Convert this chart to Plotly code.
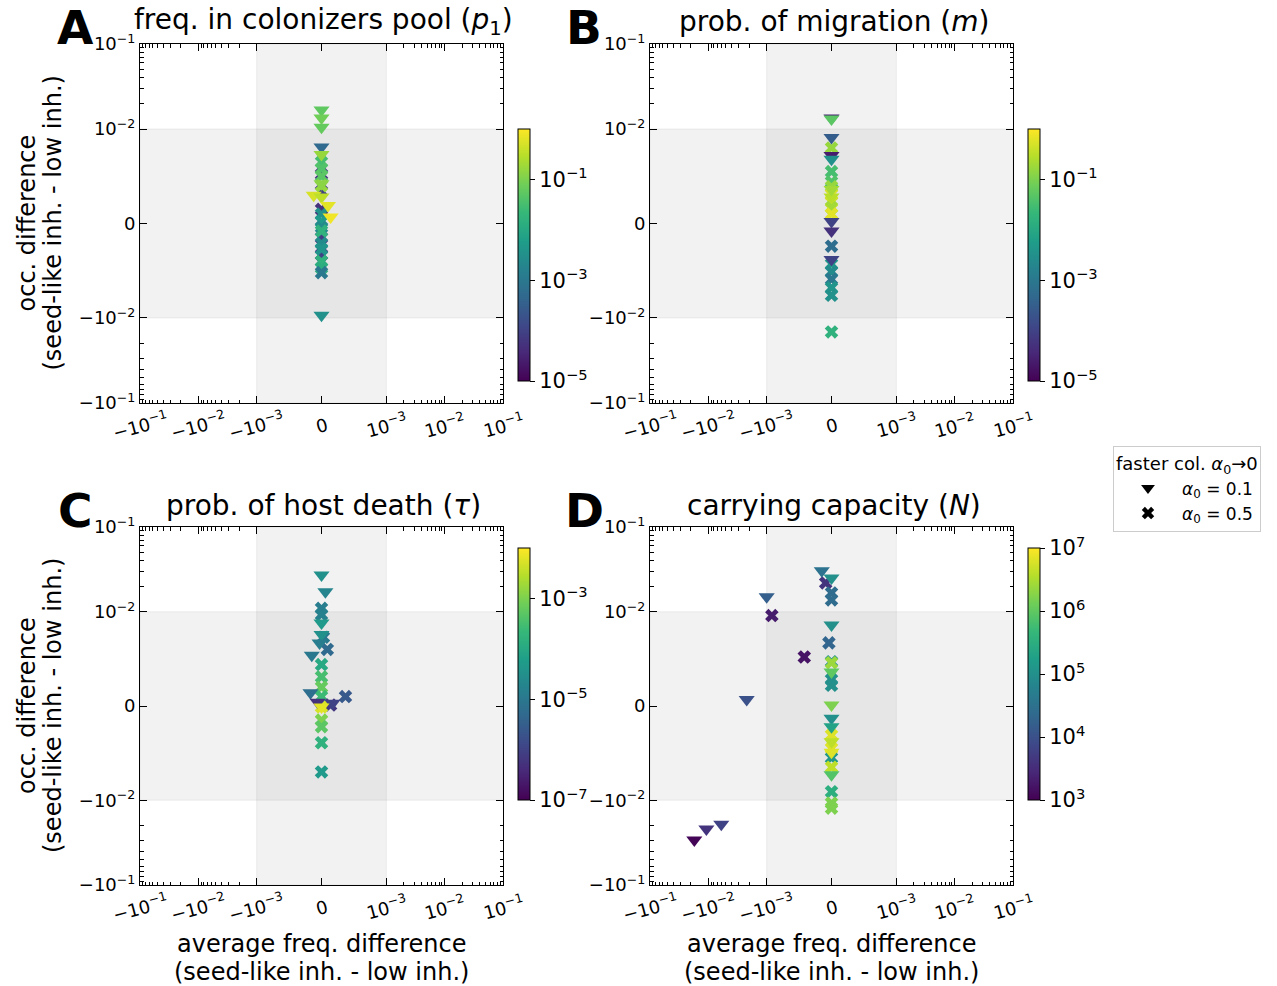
import numpy as np
import plotly.graph_objects as go

# ---------------- data ----------------
# Panel A: freq. in colonizers pool (p1)
A_tri_x = [0, 0, 0, 0, 0, 0, -1.2e-4, 0, 1.0e-4, 1.4e-4, 0]
A_tri_y = [0.0167, 0.0135, 0.0105, 0.0081, 0.0073, 0.0042, 0.0030, 0.0028, 0.0019, 0.0007, -0.0097]
A_tri_c = [0.056, 0.079, 0.063, 5e-4, 0.16, 0.13, 0.5, 0.32, 0.63, 0.79, 3.2e-3]
A_crs_x = [0] * 18
A_crs_y = [0.0052, 0.0034, 0.0015, -0.0015, -0.0033, 0.0065, 0.0058, 0.0050, 0.0040, 0.0010,
           0.0002, -0.0004, -0.0008, -0.0021, -0.0027, -0.0040, -0.0047, -0.0052]
A_crs_c = [6e-5, 1e-4, 5e-5, 8e-5, 1e-4, 0.032, 0.04, 0.05, 0.16, 3.2e-3,
           5e-3, 2.5e-3, 0.016, 2.5e-3, 4e-3, 0.016, 0.013, 1e-3]

# Panel B: prob. of migration (m)
B_tri_x = [0] * 10
B_tri_y = [0.0135, 0.0131, 0.0091, 0.0072, 0.0068, 0.0028, 0.0002, -0.0008, -0.0038, 0.0036]
B_tri_c = [3e-5, 0.05, 3e-4, 2.5e-5, 3.2e-3, 0.3, 1e-4, 5e-5, 1e-4, 0.2]
B_crs_x = [0] * 15
B_crs_y = [0.0080, 0.0055, 0.0044, 0.0039, 0.0031, 0.0023, 0.0017, 0.0010, -0.0024,
           -0.0043, -0.0051, -0.0059, -0.0068, -0.0076, -0.0146]
B_crs_c = [0.16, 0.032, 0.04, 0.16, 0.5, 0.4, 0.2, 0.63, 6e-4,
           5e-3, 2.5e-3, 1e-3, 4e-3, 3.2e-3, 0.016]

# Panel C: prob. of host death (tau)
C_tri_x = [0, 6e-5, 0, 0, -3e-5, -1.5e-4, -1.7e-4, 1.7e-4, -6e-5, 0]
C_tri_y = [0.0272, 0.0172, 0.0088, 0.0076, 0.0067, 0.0054, 0.0014, 0.0003, 0.0004, -0.0001]
C_tri_c = [3.2e-5, 1.8e-5, 5e-5, 3.2e-5, 1.3e-5, 1e-5, 6.3e-6, 1e-6, 5e-7, 6.3e-3]
C_crs_x = [0, 0, 3e-5, 9e-5, 0, 0, 0, 0, 3.7e-4, 1.4e-4, 0, 0, 0, 0, 0]
C_crs_y = [0.0110, 0.0097, 0.0073, 0.0060, 0.0044, 0.0031, 0.0020, 0.0010, 0.0010, 0.0001,
           -0.0001, -0.0015, -0.0022, -0.0039, -0.0070]
C_crs_c = [1.3e-5, 1.6e-5, 1e-5, 5e-6, 1e-4, 3.2e-4, 6.3e-4, 2.5e-4, 2.5e-6, 6.3e-7,
           5e-3, 1e-3, 5e-4, 1.6e-4, 5e-5]

# Panel D: carrying capacity (N)
D_tri_x = [-1.5e-4, 0, -1.0e-3, 0, -2.2e-3, 0, 0, 0, 0, 0, 0, 0, -0.0174, -0.0108, -0.0060]
D_tri_y = [0.0304, 0.0251, 0.0150, 0.0086, 0.0007, 0.0036, 0.0001, -0.0013, -0.0022, -0.0038,
           -0.0049, -0.0073, -0.0295, -0.0219, -0.0192]
D_tri_c = [3.2e4, 1e5, 1.6e4, 1e5, 1e4, 1e6, 1.6e6, 1e5, 2e5, 4e6,
           6.3e6, 8e5, 1.1e3, 4e3, 6.3e3]
D_crs_x = [-9e-5, 0, 0, -9.2e-4, -4e-5, -4.2e-4, 0, 0, 0, 0, 0, 0, 0, 0, 0, 0, 0]
D_crs_y = [0.0219, 0.0167, 0.0138, 0.0096, 0.0067, 0.0052, 0.0047, 0.0046, 0.0028, 0.0022,
           -0.0031, -0.0045, -0.0055, -0.0065, -0.0091, -0.0108, -0.0124]
D_crs_c = [4e3, 2.5e4, 2.5e4, 2e3, 2e4, 1.6e3, 1e5, 2.5e6, 1e5, 1e5,
           6.3e6, 6.3e6, 1.3e5, 4e6, 3.2e5, 1.6e6, 1.6e6]

titles = ["freq. in colonizers pool (<i>p</i><sub>1</sub>)", "prob. of migration (<i>m</i>)",
          "prob. of host death (<i>τ</i>)", "carrying capacity (<i>N</i>)"]
letters = ["A", "B", "C", "D"]
cbar_ranges = [(-5, 0), (-5, 0), (-7, -2), (3, 7)]
cbar_ticks = [[-5, -3, -1], [-5, -3, -1], [-7, -5, -3], [3, 4, 5, 6, 7]]
ylab_lines = ["occ. difference", "(seed-like inh. - low inh.)"]
xlab_lines = ["average freq. difference", "(seed-like inh. - low inh.)"]

# ---------------- symlog helpers ----------------
LS = 1 / (1 - 1 / 10.0)  # matplotlib linscale adjustment (linscale=1, base=10)
XL, YL = 1e-3, 1e-2


def symlog(v, L):
    v = np.asarray(v, float)
    a = np.abs(v)
    return np.where(a <= L, v / L * LS, np.sign(v) * (LS + np.log10(np.maximum(a, 1e-300) / L)))


def sup(e):
    return "10<sup>" + str(e).replace("-", "−") + "</sup>"


x_major = [-0.1, -0.01, -0.001, 0, 0.001, 0.01, 0.1]
x_text = ["−" + sup(-1), "−" + sup(-2), "−" + sup(-3), "0", sup(-3), sup(-2), sup(-1)]
y_major = [-0.1, -0.01, 0, 0.01, 0.1]
y_text = ["−" + sup(-1), "−" + sup(-2), "0", sup(-2), sup(-1)]
x_minor = [s * m * d for s in (-1, 1) for d in (1e-3, 1e-2) for m in range(2, 10)]
y_minor = [s * m * d for s in (-1, 1) for d in (1e-2,) for m in range(2, 10)]

XR = LS + 2
YR = LS + 1

FONT = "DejaVu Sans"
W, H = 1277, 986
# pixel boxes of the panels: (left, right, top, bottom)
boxes = [(140, 503, 44, 403), (650, 1013, 44, 403), (140, 503, 527, 885), (650, 1013, 527, 885)]

fig = go.Figure()

datasets = [
    (A_tri_x, A_tri_y, A_tri_c, A_crs_x, A_crs_y, A_crs_c),
    (B_tri_x, B_tri_y, B_tri_c, B_crs_x, B_crs_y, B_crs_c),
    (C_tri_x, C_tri_y, C_tri_c, C_crs_x, C_crs_y, C_crs_c),
    (D_tri_x, D_tri_y, D_tri_c, D_crs_x, D_crs_y, D_crs_c),
]

layout = dict(
    width=W, height=H, margin=dict(l=0, r=0, t=0, b=0, autoexpand=False),
    paper_bgcolor="white", plot_bgcolor="white",
    font=dict(family=FONT, color="black"),
    shapes=[], annotations=[],
)


def ann(text, x, y, size, angle=0, xref="paper", yref="paper"):
    return dict(text=text, x=x, y=y, xref=xref, yref=yref, xanchor="center", yanchor="middle",
                textangle=angle, showarrow=False, font=dict(size=size))


for i, (tx, ty, tc, cx, cy, cc) in enumerate(datasets):
    n = "" if i == 0 else str(i + 1)
    xa, ya = "x" + n, "y" + n
    ca = "coloraxis" + n
    fig.add_trace(go.Scatter(
        x=symlog(cx, XL), y=symlog(cy, YL), mode="markers", xaxis=xa, yaxis=ya, showlegend=False,
        marker=dict(symbol="x", size=12, color=np.log10(cc), coloraxis=ca, line=dict(width=0))))
    fig.add_trace(go.Scatter(
        x=symlog(tx, XL), y=symlog(ty, YL), mode="markers", xaxis=xa, yaxis=ya, showlegend=False,
        marker=dict(symbol="triangle-down", size=14, color=np.log10(tc), coloraxis=ca, line=dict(width=0))))

    l, r, t, b = boxes[i]
    common = dict(showline=True, linecolor="black", linewidth=1, mirror="ticks", ticks="inside",
                  ticklen=7, tickwidth=1, tickcolor="black", showgrid=False, zeroline=False,
                  automargin=False)
    layout["xaxis" + n] = dict(
        domain=[l / W, r / W], range=[-XR, XR], anchor=ya, tickmode="array",
        tickvals=symlog(x_major, XL), showticklabels=False,
        minor=dict(tickmode="array", tickvals=symlog(x_minor, XL), ticks="inside", ticklen=3.5,
                   tickcolor="black", tickwidth=1),
        **common)
    layout["yaxis" + n] = dict(
        domain=[1 - b / H, 1 - t / H], range=[-YR, YR], anchor=xa, tickmode="array",
        tickvals=symlog(y_major, YL), ticktext=y_text, tickfont=dict(size=18),
        minor=dict(tickmode="array", tickvals=symlog(y_minor, YL), ticks="inside", ticklen=3.5,
                   tickcolor="black", tickwidth=1),
        **common)

    # rotated x tick labels, centred on their ticks (as in the reference)
    for v, txt in zip(symlog(x_major, XL), x_text):
        layout["annotations"].append(ann(txt, float(v), 1 - (b + 22) / H, 18, angle=-15, xref=xa))

    lo, hi = cbar_ranges[i]
    cb_top = 129 if i < 2 else 548
    cb_len = 252
    layout[ca] = dict(
        colorscale="Viridis", cmin=lo, cmax=hi,
        colorbar=dict(
            x=(r + 15) / W, xanchor="left", xpad=0, ypad=0,
            y=1 - (cb_top + cb_len / 2) / H, yanchor="middle",
            lenmode="pixels", len=cb_len, thickness=12,
            outlinecolor="black", outlinewidth=1,
            tickmode="array", tickvals=cbar_ticks[i], ticktext=[sup(v) for v in cbar_ticks[i]],
            ticks="outside", ticklen=5, tickcolor="black", tickfont=dict(size=21, family=FONT)))

    gray = "rgba(128,128,128,0.1)"
    layout["shapes"].append(dict(type="rect", xref=xa, yref=ya + " domain", x0=-LS, x1=LS, y0=0, y1=1,
                                 fillcolor=gray, line=dict(width=1, color="rgba(128,128,128,0.12)"),
                                 layer="below"))
    layout["shapes"].append(dict(type="rect", xref=xa + " domain", yref=ya, x0=0, x1=1, y0=-LS, y1=LS,
                                 fillcolor=gray, line=dict(width=1, color="rgba(128,128,128,0.12)"),
                                 layer="below"))

    cx_px = (l + r) / 2
    ttl_y = 22 if i < 2 else 505
    layout["annotations"].append(ann(titles[i], (cx_px + 2) / W, 1 - ttl_y / H, 28))
    let_x = 75 if i in (0, 2) else 584
    layout["annotations"].append(ann("<b>" + letters[i] + "</b>", let_x / W, 1 - (ttl_y + 5) / H, 47))
    if i in (0, 2):
        ymid = (t + b) / 2
        layout["annotations"].append(ann(ylab_lines[0], 27 / W, 1 - ymid / H, 24, angle=-90))
        layout["annotations"].append(ann(ylab_lines[1], 53 / W, 1 - ymid / H, 24, angle=-90))
    if i in (2, 3):
        layout["annotations"].append(ann(xlab_lines[0], cx_px / W, 1 - 944 / H, 24))
        layout["annotations"].append(ann(xlab_lines[1], cx_px / W, 1 - 972 / H, 24))

# legend proxies
fig.add_trace(go.Scatter(x=[None], y=[None], mode="markers", name="<i>α</i><sub>0</sub> = 0.1",
                         marker=dict(symbol="triangle-down", size=12, color="black")))
fig.add_trace(go.Scatter(x=[None], y=[None], mode="markers", name="<i>α</i><sub>0</sub> = 0.5",
                         marker=dict(symbol="x", size=11, color="black")))

layout["legend"] = dict(
    title=dict(text="faster col. <i>α</i><sub>0</sub>→0", font=dict(size=18)),
    x=1113 / W, y=1 - 446 / H, xanchor="left", yanchor="top",
    bordercolor="#cccccc", borderwidth=1, bgcolor="white", font=dict(size=17),
    tracegroupgap=2, itemwidth=58)

fig.update_layout(**layout)
fig.write_html("out.html")
